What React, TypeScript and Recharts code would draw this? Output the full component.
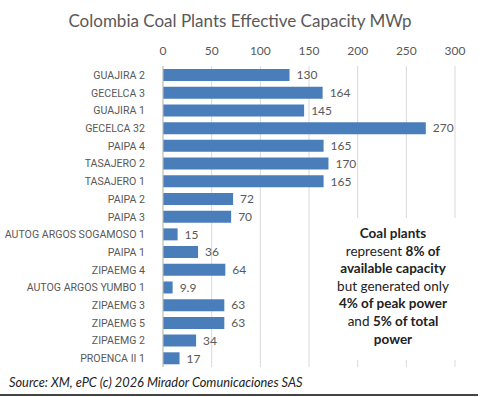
import { Bar, BarChart, CartesianGrid, LabelList, XAxis, YAxis } from 'recharts'

const PLANTS = [
  'GUAJIRA 2', 'GECELCA 3', 'GUAJIRA 1', 'GECELCA 32', 'PAIPA 4', 'TASAJERO 2',
  'TASAJERO 1', 'PAIPA 2', 'PAIPA 3', 'AUTOG ARGOS SOGAMOSO 1', 'PAIPA 1',
  'ZIPAEMG 4', 'AUTOG ARGOS YUMBO 1', 'ZIPAEMG 3', 'ZIPAEMG 5', 'ZIPAEMG 2', 'PROENCA II 1',
]
const CAPACITY = [130, 164, 145, 270, 165, 170, 165, 72, 70, 15, 36, 64, 9.9, 63, 63, 34, 17]
const X_TICKS = [0, 50, 100, 150, 200, 250, 300]

const data = PLANTS.map((name, i) => ({ name, value: CAPACITY[i] }))

const FONT = 'Lato, "Open Sans", sans-serif'
const LABEL_FONT = 'Roboto, Lato, sans-serif'
const GRAY = '#595959'

// plain text tick so long names don't wrap
const PlantTick = ({ x, y, payload }: any) => (
  <text x={x - 10} y={y} dy={4} textAnchor="end" fontSize={10.6} fill={GRAY} fontFamily={LABEL_FONT}>
    {payload.value}
  </text>
)

export default function App() {
  return (
    <div style={{ position: 'fixed', top: 0, left: 0, width: 480, height: 397, background: '#fff', fontFamily: FONT }}>
      <div style={{ position: 'absolute', top: 10, left: 0, width: 480, textAlign: 'center', fontSize: 17, color: GRAY }}>
        Colombia Coal Plants Effective Capacity MWp
      </div>

      <BarChart
        layout="vertical"
        width={480}
        height={397}
        data={data}
        barCategoryGap="17%"
        margin={{ top: 42, right: 25, left: 0, bottom: 30 }}
      >
        <CartesianGrid horizontal={false} stroke="#d9d9d9" />
        <XAxis
          type="number"
          orientation="top"
          domain={[0, 300]}
          ticks={X_TICKS}
          axisLine={false}
          tickLine={false}
          tickMargin={5}
          height={24}
          tick={{ fontSize: 12, fill: GRAY, fontFamily: FONT }}
        />
        <YAxis
          type="category"
          dataKey="name"
          width={163}
          interval={0}
          axisLine={{ stroke: '#bfbfbf' }}
          tickLine={false}
          tick={<PlantTick />}
        />
        <Bar dataKey="value" fill="#4a7ebb" isAnimationActive={false}>
          <LabelList dataKey="value" position="right" offset={7} style={{ fontSize: 12, fill: GRAY, fontFamily: FONT }} />
        </Bar>
      </BarChart>

      <div
        style={{
          position: 'absolute', left: 318, top: 218, width: 150, height: 142, background: '#fff',
          textAlign: 'center', fontSize: 13.5, lineHeight: '17.6px', color: '#222', paddingTop: 7,
          boxSizing: 'border-box',
        }}
      >
        <b>Coal plants</b><br />
        represent <b>8% of</b><br />
        <b>available capacity</b><br />
        but generated only<br />
        <b>4% of peak power</b><br />
        and <b>5% of total</b><br />
        <b>power</b>
      </div>

      <div style={{ position: 'absolute', left: 9, top: 374, fontSize: 12.8, fontStyle: 'italic', color: '#222' }}>
        Source: XM, ePC (c) 2026 Mirador Comunicaciones SAS
      </div>
      <div style={{ position: 'absolute', left: 0, top: 394, width: 478, height: 2, background: '#444' }} />
    </div>
  )
}
